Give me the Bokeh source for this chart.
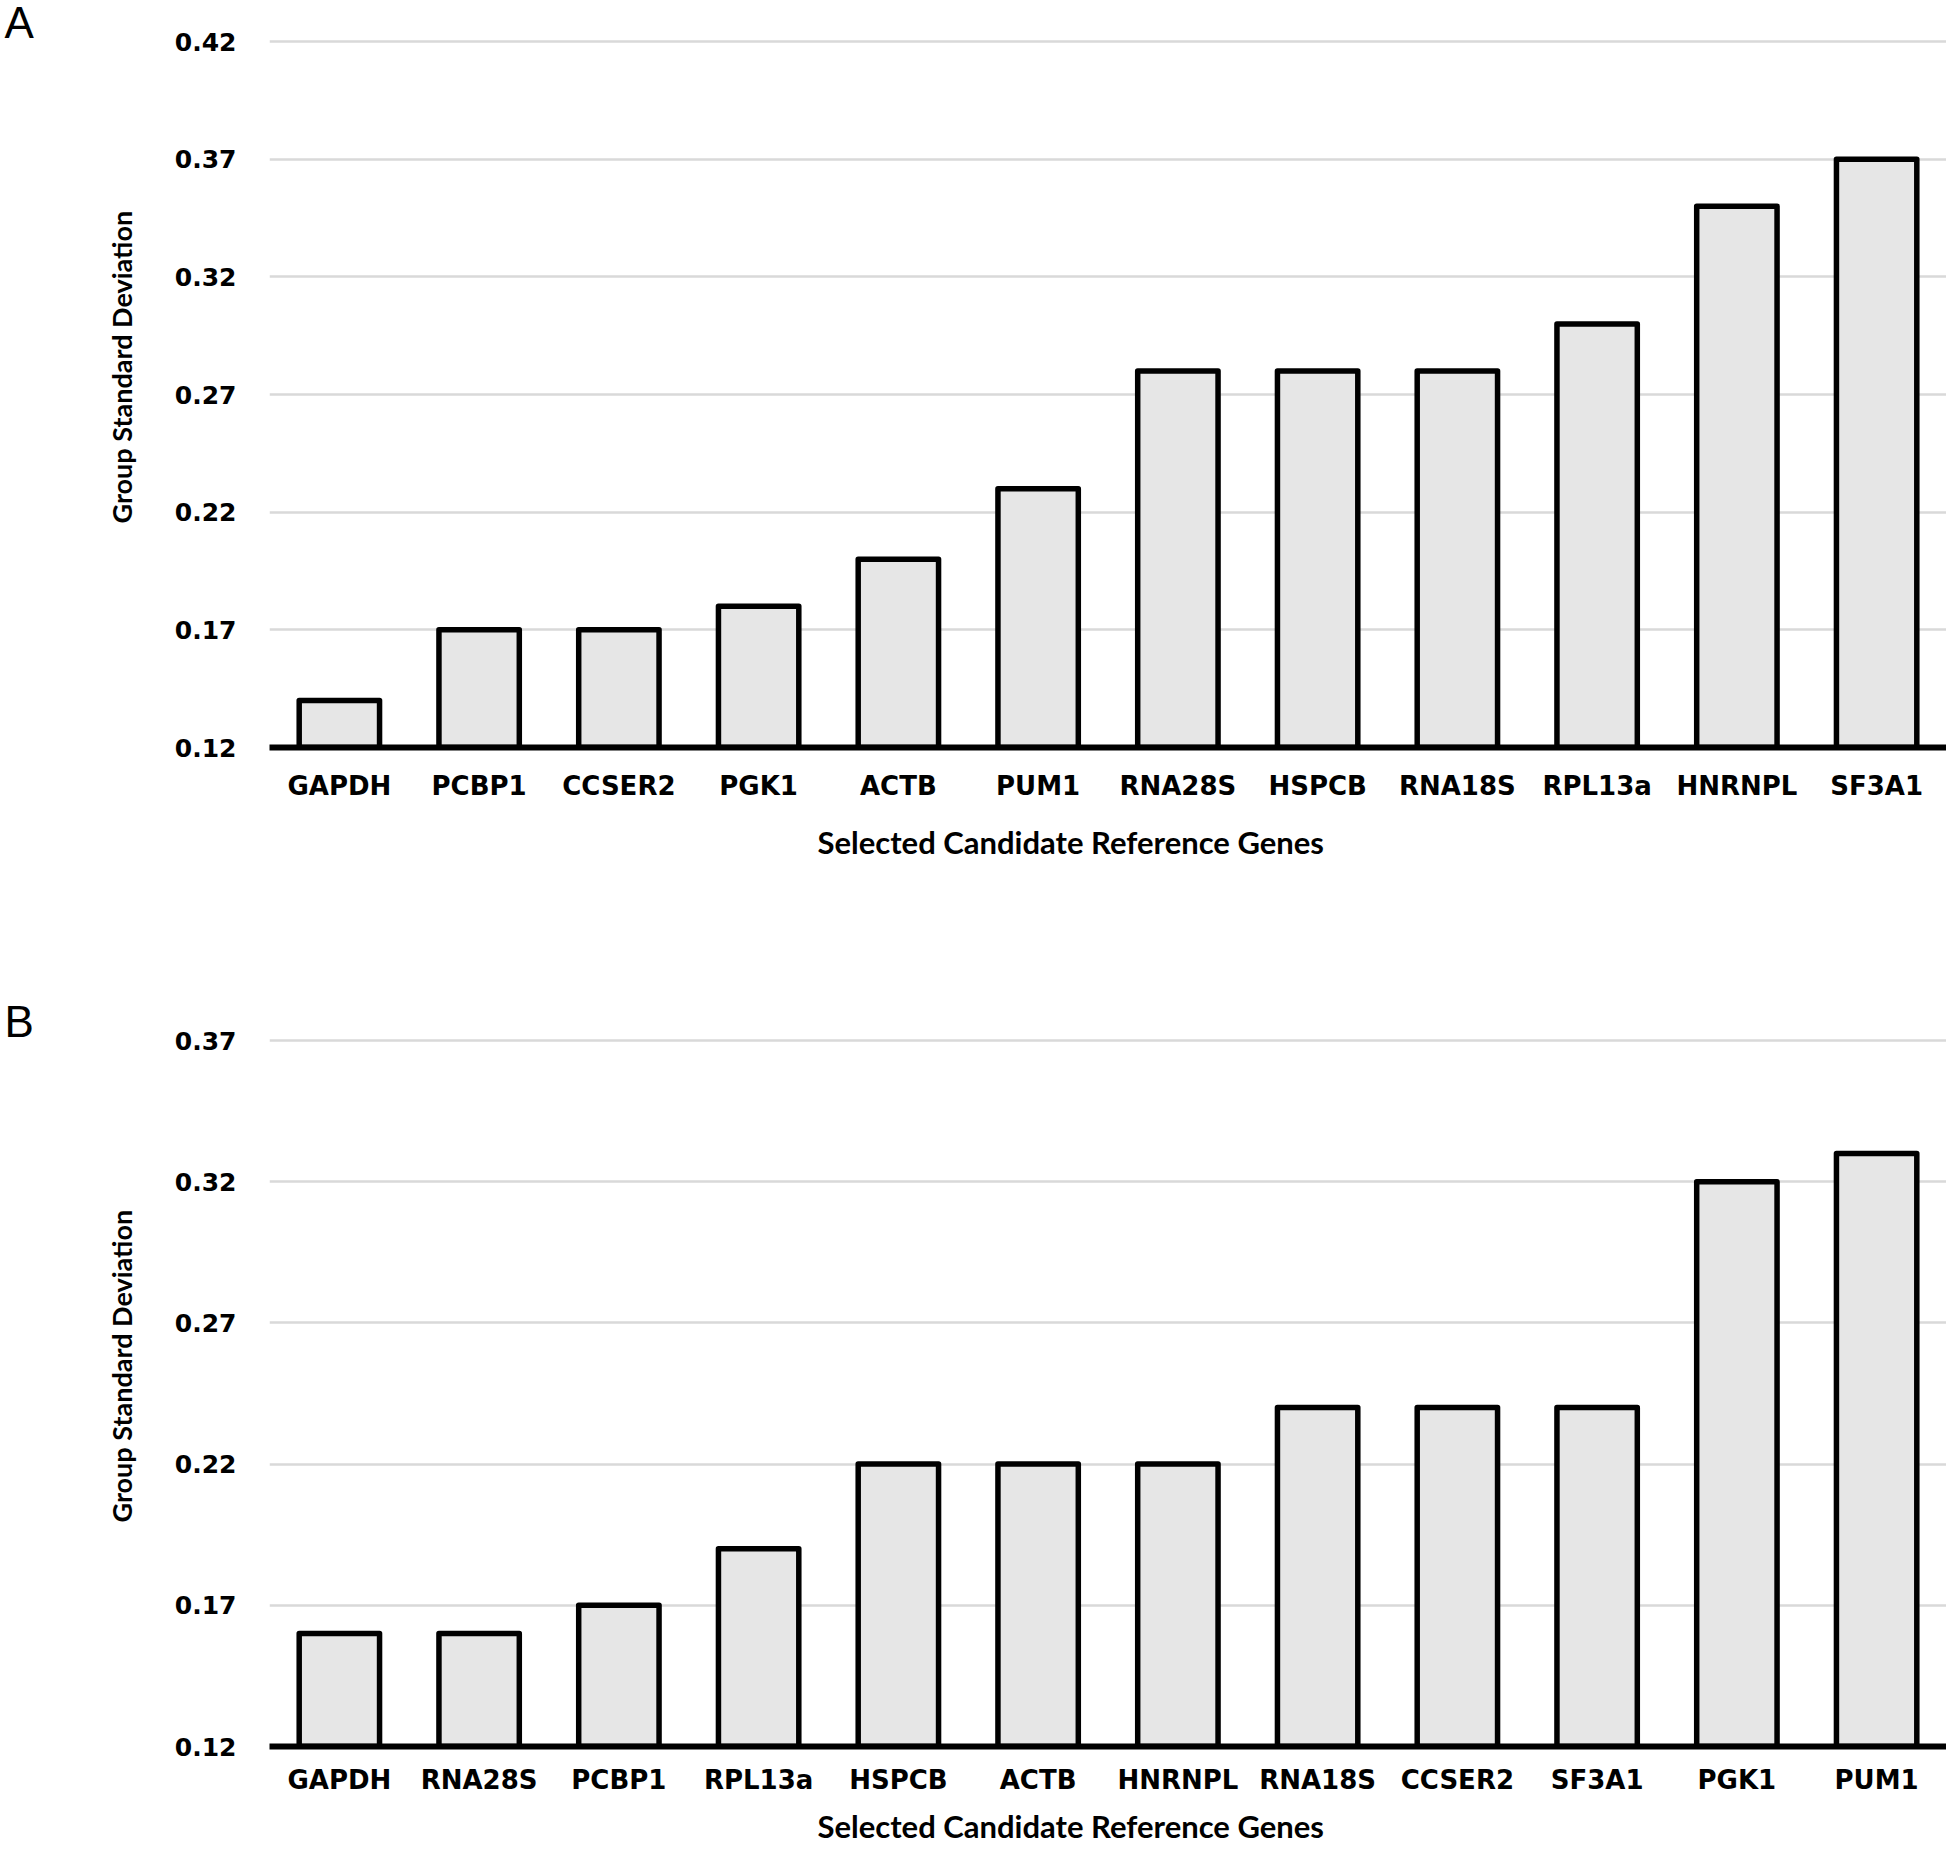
from bokeh.plotting import figure
from bokeh.models import FixedTicker, ColumnDataSource, Title
from bokeh.layouts import column
from bokeh.embed import file_html
from bokeh.resources import INLINE

genes_a = ["GAPDH", "PCBP1", "CCSER2", "PGK1", "ACTB", "PUM1", "RNA28S", "HSPCB", "RNA18S", "RPL13a", "HNRNPL", "SF3A1"]
sd_a = [0.14, 0.17, 0.17, 0.18, 0.20, 0.23, 0.28, 0.28, 0.28, 0.30, 0.35, 0.37]
ticks_a = [0.12, 0.17, 0.22, 0.27, 0.32, 0.37, 0.42]

genes_b = ["GAPDH", "RNA28S", "PCBP1", "RPL13a", "HSPCB", "ACTB", "HNRNPL", "RNA18S", "CCSER2", "SF3A1", "PGK1", "PUM1"]
sd_b = [0.16, 0.16, 0.17, 0.19, 0.22, 0.22, 0.22, 0.24, 0.24, 0.24, 0.32, 0.33]
ticks_b = [0.12, 0.17, 0.22, 0.27, 0.32, 0.37]

y_title = "Group Standard Deviation"
x_title = "Selected Candidate Reference Genes"

W = 1946
FRAME_H = 706   # pixel span between lowest and highest tick
PAD_PX = 4      # room above the top gridline so it is not clipped


def panel(letter, genes, vals, ticks, height, top, bottom, lab_standoff, xt_standoff):
    span = ticks[-1] - ticks[0]
    pad = PAD_PX * span / FRAME_H
    p = figure(x_range=genes, y_range=(ticks[0], ticks[-1] + pad), width=W, height=height,
               output_backend="svg", toolbar_location=None,
               min_border_left=269, min_border_right=0, min_border_top=top,
               min_border_bottom=bottom)
    src = ColumnDataSource(dict(g=genes, v=vals))
    p.vbar(x="g", top="v", bottom=ticks[0], width=0.575, source=src,
           fill_color="#e6e6e6", line_color="black", line_width=5.5, line_join="round")
    p.outline_line_color = None
    p.background_fill_color = "white"
    p.border_fill_color = "white"
    p.xgrid.grid_line_color = None
    p.ygrid.grid_line_color = "#d9d9d9"
    p.ygrid.grid_line_width = 2.5
    p.yaxis.ticker = FixedTicker(ticks=ticks)
    p.yaxis.axis_line_color = None
    p.yaxis.major_tick_line_color = None
    p.yaxis.minor_tick_line_color = None
    p.yaxis.major_label_standoff = 27
    p.yaxis.major_label_text_font = "DejaVu Sans"
    p.yaxis.major_label_text_font_style = "bold"
    p.yaxis.major_label_text_font_size = "25px"
    p.yaxis.major_label_text_color = "black"
    p.xaxis.axis_line_color = "black"
    p.xaxis.axis_line_width = 6
    p.xaxis.major_tick_line_color = None
    p.xaxis.minor_tick_line_color = None
    p.xaxis.major_label_standoff = lab_standoff
    p.xaxis.major_label_text_font = "DejaVu Sans"
    p.xaxis.major_label_text_font_style = "bold"
    p.xaxis.major_label_text_font_size = "26px"
    p.xaxis.major_label_text_color = "black"
    # axis titles, slightly off-centre as in the original figure
    p.add_layout(Title(text=x_title, align="left", offset=548, standoff=xt_standoff,
                       text_font="Lato", text_font_style="bold", text_font_size="31px",
                       text_color="black"), "below")
    p.add_layout(Title(text=y_title, align="left", offset=224, standoff=68,
                       text_font="Lato", text_font_style="bold", text_font_size="27px",
                       text_color="black"), "left")
    # panel letter
    p.title.text = letter
    p.title.align = "left"
    p.title.offset = -265
    p.title.standoff = -18
    p.title.text_font = "Liberation Sans"
    p.title.text_font_style = "normal"
    p.title.text_font_size = "44px"
    p.title.text_color = "black"
    return p


pa = panel("A", genes_a, sd_a, ticks_a, 1000, 41 - PAD_PX, 1000 - 747, 17, 35)
pb = panel("B", genes_b, sd_b, ticks_b, 857, 40 - PAD_PX, 857 - 746, 12, 14)
layout = column(pa, pb, spacing=0)
open("out.html", "w").write(file_html(layout, INLINE))
